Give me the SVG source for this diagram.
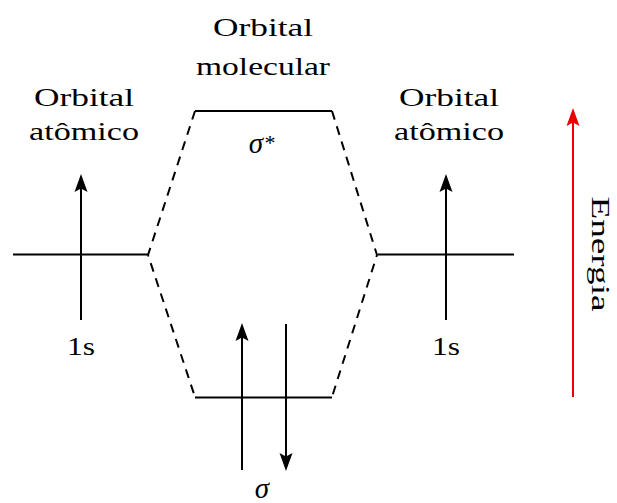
<svg xmlns="http://www.w3.org/2000/svg" width="617" height="503" viewBox="0 0 617 503">
<style>
.lvl{stroke:#000;stroke-width:2;fill:none}
.dash{stroke:#000;stroke-width:2;fill:none;stroke-dasharray:9 7}
.arr{stroke:#000;stroke-width:2;fill:none}
.head{fill:#000;stroke:none}
</style>
<defs>
<path id="hd" d="M0,0 L6.5,18 L0,14.5 L-6.5,18 z"/>
</defs>
<g id="labels">
<text font-family="'Liberation Serif', serif" font-size="25.5" text-anchor="middle" x="263" y="36" textLength="100" lengthAdjust="spacingAndGlyphs">Orbital</text>
<text font-family="'Liberation Serif', serif" font-size="25.5" text-anchor="middle" x="263" y="75" textLength="134" lengthAdjust="spacingAndGlyphs">molecular</text>
<text font-family="'Liberation Serif', serif" font-size="25.5" text-anchor="middle" x="84" y="106" textLength="100" lengthAdjust="spacingAndGlyphs">Orbital</text>
<text font-family="'Liberation Serif', serif" font-size="25.5" text-anchor="middle" x="84" y="140" textLength="110" lengthAdjust="spacingAndGlyphs">atômico</text>
<text font-family="'Liberation Serif', serif" font-size="25.5" text-anchor="middle" x="449" y="106" textLength="100" lengthAdjust="spacingAndGlyphs">Orbital</text>
<text font-family="'Liberation Serif', serif" font-size="25.5" text-anchor="middle" x="449" y="140" textLength="110" lengthAdjust="spacingAndGlyphs">atômico</text>
</g>
<g id="ao-left">
<line class="lvl" x1="13" y1="254.5" x2="148" y2="254.5"/>
<line class="arr" x1="81" y1="320" x2="81" y2="185"/>
<use href="#hd" class="head" x="81" y="174"/>
<text font-family="'Liberation Serif', serif" font-size="25.5" text-anchor="middle" x="81" y="355" textLength="28" lengthAdjust="spacingAndGlyphs">1s</text>
</g>
<g id="ao-right">
<line class="lvl" x1="378" y1="254.5" x2="514" y2="254.5"/>
<line class="arr" x1="446" y1="320" x2="446" y2="185"/>
<use href="#hd" class="head" x="446" y="174"/>
<text font-family="'Liberation Serif', serif" font-size="25.5" text-anchor="middle" x="446" y="355" textLength="28" lengthAdjust="spacingAndGlyphs">1s</text>
</g>
<g id="mo-antibonding">
<line class="lvl" x1="195" y1="111" x2="332" y2="111"/>
<text font-family="'Liberation Serif', serif" font-size="29" font-style="italic" text-anchor="middle" x="256" y="153">σ</text>
<text font-family="'Liberation Serif', serif" font-size="22" text-anchor="middle" x="270" y="150">*</text>
</g>
<g id="mo-bonding">
<line class="lvl" x1="195" y1="397.5" x2="332" y2="397.5"/>
<line class="arr" x1="242" y1="470" x2="242" y2="334"/>
<use href="#hd" class="head" x="242" y="323"/>
<line class="arr" x1="286" y1="324" x2="286" y2="460"/>
<use href="#hd" class="head" transform="translate(286,471) rotate(180)"/>
<text font-family="'Liberation Serif', serif" font-size="29" font-style="italic" text-anchor="middle" x="262" y="498">σ</text>
</g>
<g id="connectors">
<polyline class="dash" points="195,111 148,255 195,397"/>
<polyline class="dash" points="332,111 377,255 332,397"/>
</g>
<g id="energy">
<line x1="573" y1="397" x2="573" y2="120" stroke="#e00" stroke-width="2"/>
<use href="#hd" fill="#e00" x="573" y="108"/>
<text font-family="'Liberation Serif', serif" font-size="25.5" text-anchor="middle" transform="translate(592,254) rotate(90)" x="0" y="0" textLength="115" lengthAdjust="spacingAndGlyphs">Energia</text>
</g>
</svg>
